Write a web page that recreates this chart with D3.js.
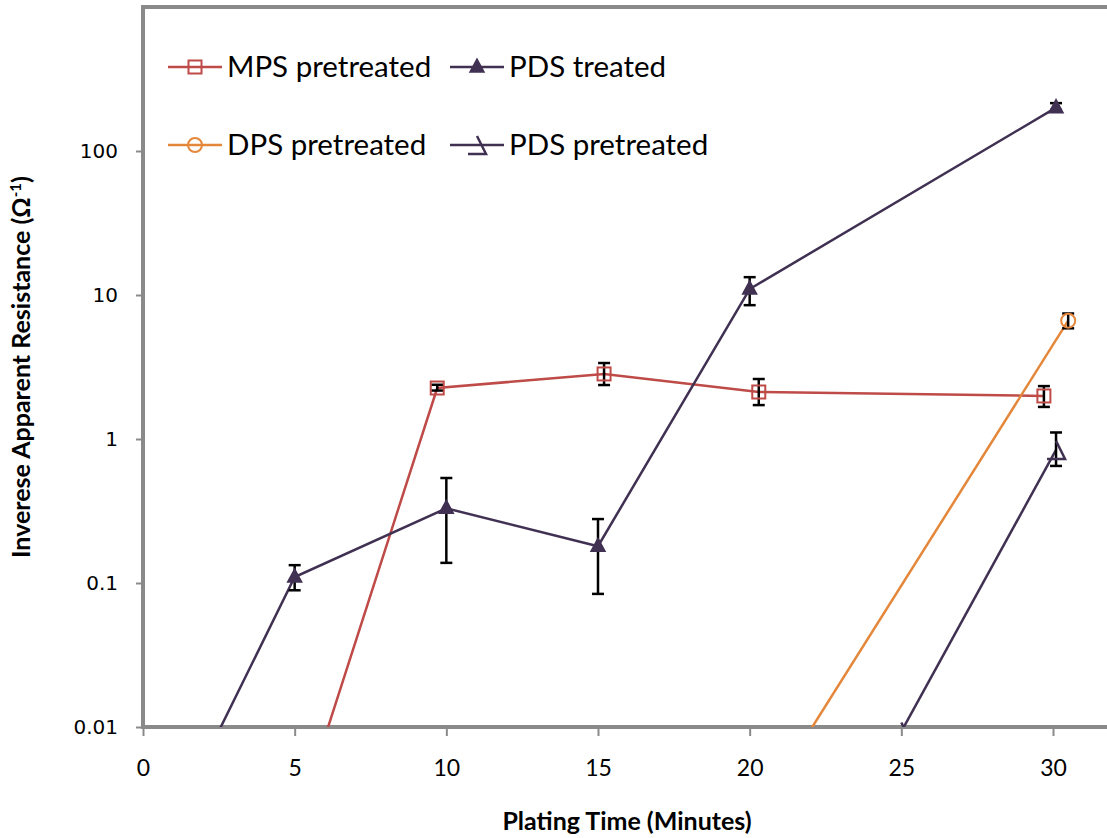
<!DOCTYPE html>
<html>
<head>
<meta charset="utf-8">
<script src="https://cdn.jsdelivr.net/npm/d3@7"></script>
<style>
  body { margin: 0; background: #fff; }
  svg { display: block; }
</style>
</head>
<body>
<div id="chart"></div>
<script>
const width = 1107;
const height = 838;
const plot = { left: 143, top: 7, bottom: 727, right: 1120 };

// values; first points of each series sit below 0.01 and are clipped
const mpsX = [5, 9.7, 15.2, 20.3, 29.7];
const mpsY = [0.0019, 2.26, 2.83, 2.12, 1.99];
const mpsLo = [null, 2.17, 2.37, 1.72, 1.67];
const mpsHi = [null, 2.38, 3.37, 2.61, 2.33];

const pdsTreatedX = [0, 5, 10, 15, 20, 30.1];
const pdsTreatedY = [0.0008, 0.11, 0.33, 0.18, 11, 200];
const pdsTreatedLo = [null, 0.089, 0.138, 0.084, 8.5, 193];
const pdsTreatedHi = [null, 0.133, 0.536, 0.278, 13.3, 215];

const dpsX = [20.5, 30.5];
const dpsY = [0.003, 6.63];
const dpsLo = [null, 5.87];
const dpsHi = [null, 7.44];

const pdsPreX = [25, 30.1];
const pdsPreY = [0.0093, 0.84];
const pdsPreLo = [null, 0.65];
const pdsPreHi = [null, 1.11];

const xTicks = [0, 5, 10, 15, 20, 25, 30];
const yTicks = [0.01, 0.1, 1, 10, 100];
const yTickLabels = ['0.01', '0.1', '1', '10', '100'];

const series = [
  { name: 'MPS pretreated', x: mpsX, y: mpsY, lo: mpsLo, hi: mpsHi, color: '#BE4B48', marker: 'square' },
  { name: 'PDS treated', x: pdsTreatedX, y: pdsTreatedY, lo: pdsTreatedLo, hi: pdsTreatedHi, color: '#403152', marker: 'triangle' },
  { name: 'DPS pretreated', x: dpsX, y: dpsY, lo: dpsLo, hi: dpsHi, color: '#E4873A', marker: 'circle' },
  { name: 'PDS pretreated', x: pdsPreX, y: pdsPreY, lo: pdsPreLo, hi: pdsPreHi, color: '#403152', marker: 'opentri' }
];

const xScale = d3.scaleLinear().domain([0, 30]).range([143, 1053]);
const yScale = d3.scaleLog().domain([0.01, 1000]).range([plot.bottom, plot.top]);

const svg = d3.select('#chart')
  .append('svg')
  .attr('width', width)
  .attr('height', height);

svg.append('defs')
  .append('clipPath')
  .attr('id', 'clip')
  .append('rect')
  .attr('x', plot.left)
  .attr('y', plot.top)
  .attr('width', plot.right - plot.left)
  .attr('height', plot.bottom - plot.top);

// axes
const xAxis = svg.append('g')
  .attr('transform', 'translate(0,' + plot.bottom + ')')
  .call(d3.axisBottom(xScale).tickValues(xTicks).tickSize(9).tickSizeOuter(0).tickPadding(24));
xAxis.select('.domain').remove();
xAxis.selectAll('line').attr('stroke', '#8a8a8a').attr('stroke-width', 2);
xAxis.selectAll('text')
  .style('font-family', 'Lato, "Open Sans", sans-serif')
  .style('font-size', '23px')
  .attr('fill', '#000');

const yAxis = svg.append('g')
  .attr('transform', 'translate(' + plot.left + ',0)')
  .call(d3.axisLeft(yScale).tickValues(yTicks).tickFormat((d, i) => yTickLabels[i]).tickSize(7).tickSizeOuter(0).tickPadding(18));
yAxis.select('.domain').remove();
yAxis.selectAll('line').attr('stroke', '#8a8a8a').attr('stroke-width', 2);
yAxis.selectAll('text')
  .style('font-family', '"DejaVu Sans", sans-serif')
  .style('font-size', '20px')
  .attr('fill', '#000');

// plot frame
svg.append('rect')
  .attr('x', plot.left)
  .attr('y', plot.top)
  .attr('width', plot.right - plot.left)
  .attr('height', plot.bottom - plot.top)
  .attr('fill', 'none')
  .attr('stroke', '#8a8a8a')
  .attr('stroke-width', 4);

function markerPath(type) {
  if (type === 'triangle') return 'M0,-8L7,5L-7,5Z';
  if (type === 'opentri') return 'M0,-9L9,9L-9,9';
  return null;
}

function drawMarker(g, type, color) {
  if (type === 'square') {
    g.append('rect').attr('x', -6.5).attr('y', -6.5).attr('width', 13).attr('height', 13)
      .attr('fill', 'none').attr('stroke', color).attr('stroke-width', 2);
  } else if (type === 'circle') {
    g.append('circle').attr('r', 7).attr('fill', 'none').attr('stroke', color).attr('stroke-width', 2);
  } else if (type === 'triangle') {
    g.append('path').attr('d', markerPath(type)).attr('fill', color).attr('stroke', color).attr('stroke-width', 1.5);
  } else {
    g.append('path').attr('d', markerPath(type)).attr('fill', 'none').attr('stroke', color).attr('stroke-width', 2.5);
  }
}

const line = d3.line()
  .x(d => xScale(d.x))
  .y(d => yScale(d.y));

const g = svg.append('g').attr('clip-path', 'url(#clip)');

series.forEach(s => {
  const pts = s.x.map((x, i) => ({ x: x, y: s.y[i], lo: s.lo[i], hi: s.hi[i] }));
  g.append('path')
    .datum(pts)
    .attr('d', line)
    .attr('fill', 'none')
    .attr('stroke', s.color)
    .attr('stroke-width', 2.5);

  // error bars
  const eb = g.append('g');
  pts.filter(p => p.lo != null).forEach(p => {
    const cx = xScale(p.x);
    eb.append('line').attr('x1', cx).attr('x2', cx).attr('y1', yScale(p.lo)).attr('y2', yScale(p.hi))
      .attr('stroke', '#000').attr('stroke-width', 2.5);
    [p.lo, p.hi].forEach(v => {
      eb.append('line').attr('x1', cx - 6).attr('x2', cx + 6).attr('y1', yScale(v)).attr('y2', yScale(v))
        .attr('stroke', '#000').attr('stroke-width', 2.5);
    });
  });

  pts.forEach(p => {
    const m = g.append('g').attr('transform', 'translate(' + xScale(p.x) + ',' + yScale(p.y) + ')');
    drawMarker(m, s.marker, s.color);
  });
});

// legend
const legendPos = [
  { x: 168, y: 67 },
  { x: 450, y: 67 },
  { x: 168, y: 145 },
  { x: 450, y: 145 }
];
series.forEach((s, i) => {
  const lg = svg.append('g').attr('transform', 'translate(' + legendPos[i].x + ',' + legendPos[i].y + ')');
  lg.append('line').attr('x1', 0).attr('x2', 54).attr('y1', 0).attr('y2', 0)
    .attr('stroke', s.color).attr('stroke-width', 2.5);
  drawMarker(lg.append('g').attr('transform', 'translate(27,0)'), s.marker, s.color);
  lg.append('text')
    .attr('x', 59)
    .attr('y', 0)
    .attr('dy', '0.35em')
    .style('font-family', 'Lato, "Open Sans", sans-serif')
    .style('font-size', '29.5px')
    .text(s.name);
});

// axis titles
svg.append('text')
  .attr('x', 627)
  .attr('y', 830)
  .attr('text-anchor', 'middle')
  .style('font-family', 'Lato, "Open Sans", sans-serif')
  .style('font-weight', 'bold')
  .style('font-size', '25px')
  .text('Plating Time (Minutes)');

const yt = svg.append('text')
  .attr('transform', 'translate(30,367) rotate(-90)')
  .attr('text-anchor', 'middle')
  .style('font-family', 'Lato, "Open Sans", sans-serif')
  .style('font-weight', 'bold')
  .style('font-size', '25px');
yt.append('tspan').text('Inverese Apparent Resistance (Ω');
yt.append('tspan').attr('dy', -9).style('font-size', '15px').text('-1');
yt.append('tspan').attr('dy', 9).text(')');
</script>
</body>
</html>
